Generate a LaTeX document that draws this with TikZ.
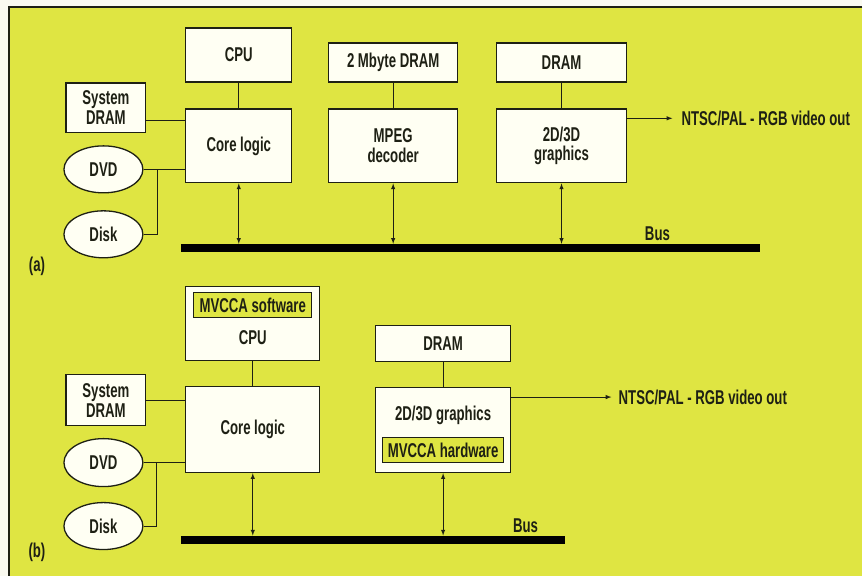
\documentclass[tikz,border=0pt]{standalone}
\usepackage{fontspec}
\setmainfont[FakeStretch=0.66,UprightFont=* Bold]{Liberation Sans}
\usetikzlibrary{shapes.geometric}
\definecolor{panel}{RGB}{223,229,66}
\definecolor{boxfill}{RGB}{255,255,243}
\definecolor{ink}{RGB}{30,32,20}
\definecolor{paper}{RGB}{250,250,240}
\begin{document}
\begin{tikzpicture}[>=latex, x=1pt, y=-1pt,
    font=\fontsize{20}{20}\selectfont, text=ink,
    blk/.style={draw=ink, fill=boxfill, line width=1.2pt, inner sep=0pt, align=center},
    disc/.style={ellipse, draw=ink, fill=boxfill, line width=1.3pt, inner sep=0pt,
      minimum width=79pt, minimum height=47pt},
    tag/.style={draw=ink, fill=panel, line width=1.2pt, inner sep=0pt, minimum height=25pt},
    wire/.style={draw=ink, line width=1pt},
    bus/.style={draw=black, line width=8pt}]
  \fill[paper] (0,0) rectangle (863,576);
  \fill[panel] (9,7) rectangle (863,576);
  \draw[ink, line width=1.5pt] (863,7) -- (9,7) -- (9,576);

  % (a) MPEG decoder on its own chip
  \node[blk, minimum width=106, minimum height=54] (cpuA) at (239,55) {CPU};
  \node[blk, minimum width=129, minimum height=39] (dramMpeg) at (393.5,62.5) {2 Mbyte DRAM};
  \node[blk, minimum width=130, minimum height=39] (dramGfxA) at (562,62.5) {DRAM};
  \node[blk, minimum width=80, minimum height=50] (sysdramA) at (106,108) {System\\DRAM};
  \node[blk, minimum width=106, minimum height=74] (coreA) at (239,146) {Core logic};
  \node[blk, minimum width=129, minimum height=74] (mpeg) at (393.5,146) {MPEG\\decoder};
  \node[blk, minimum width=130, minimum height=74] (gfxA) at (562,146) {2D/3D\\graphics};
  \node[disc] (dvdA) at (103.5,169.5) {DVD};
  \node[disc] (diskA) at (103.5,234.5) {Disk};
  \node (capA) at (37,267) {(a)};

  \draw[wire] (cpuA) -- (coreA);
  \draw[wire] (dramMpeg) -- (mpeg);
  \draw[wire] (dramGfxA) -- (gfxA);
  \coordinate (sysA) at ([yshift=-12pt]coreA.north west);
  \draw[wire] (sysA -| sysdramA.east) -- (sysA);
  \draw[wire] (dvdA.east) -- (dvdA.east -| coreA.west);
  \draw[wire] (diskA.east) -- ++(14,0) |- (dvdA.east);

  \coordinate (busAl) at (181,248);
  \coordinate (busAr) at (761,248);
  \foreach \n in {coreA, mpeg, gfxA}
    \draw[wire, <->, shorten >=4pt] (\n.south) -- (\n.south |- busAl);
  \draw[bus] (busAl) -- (busAr);
  \node[anchor=south, inner sep=0pt] (busAtxt) at (658,241) {Bus};

  \coordinate (outA) at ([yshift=-10pt]gfxA.north east);
  \node[anchor=west, inner sep=0pt] (ntscA) at (682,119) {NTSC/PAL - RGB video out};
  \draw[wire, ->, shorten >=9pt] (outA) -- (outA -| ntscA.west);

  % (b) MVCCA
  \node[blk, minimum width=134, minimum height=74] (cpuB) at (253,324) {};
  \node[tag, minimum width=118] (swB) at (253,305.5) {MVCCA software};
  \node (cpuBtxt) at (253,338) {CPU};
  \node[blk, minimum width=135, minimum height=36] (dramGfxB) at (443.5,344) {DRAM};
  \node[blk, minimum width=80, minimum height=51] (sysdramB) at (106,400.5) {System\\DRAM};
  \node[blk, minimum width=134, minimum height=86] (coreB) at (253,430) {Core logic};
  \node[blk, minimum width=135, minimum height=85] (gfxB) at (443.5,430.5) {};
  \node (gfxBtxt) at (443.5,416) {2D/3D graphics};
  \node[tag, minimum width=121] (hwB) at (443.5,450.5) {MVCCA hardware};
  \node[disc, minimum height=48] (dvdB) at (103.5,463) {DVD};
  \node[disc] (diskB) at (103.5,526.5) {Disk};
  \node (capB) at (37,553) {(b)};

  \draw[wire] (cpuB) -- (coreB);
  \draw[wire] (dramGfxB) -- (gfxB);
  \draw[wire] (sysdramB.east) -- (sysdramB.east -| coreB.west);
  \draw[wire] (dvdB.east) -- (dvdB.east -| coreB.west);
  \draw[wire] (diskB.east) -- ++(13,0) |- (dvdB.east);

  \coordinate (busBl) at (181,540);
  \coordinate (busBr) at (565,540);
  \foreach \n in {coreB, gfxB}
    \draw[wire, <->, shorten >=4pt] (\n.south) -- (\n.south |- busBl);
  \draw[bus] (busBl) -- (busBr);
  \node[anchor=south, inner sep=0pt] (busBtxt) at (526,533) {Bus};

  \coordinate (outB) at ([yshift=-10pt]gfxB.north east);
  \node[anchor=west, inner sep=0pt] (ntscB) at (619,398) {NTSC/PAL - RGB video out};
  \draw[wire, ->, shorten >=7pt] (outB) -- (outB -| ntscB.west);
\end{tikzpicture}
\end{document}
